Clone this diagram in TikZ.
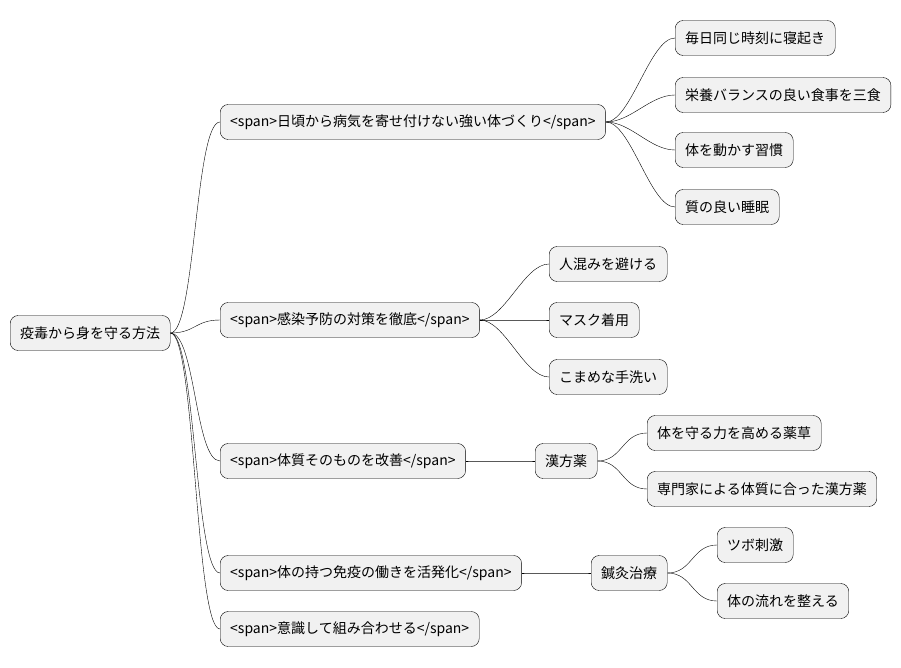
\documentclass[tikz,border=0pt]{standalone}
\usepackage{fontspec}
\setmainfont{Noto Sans CJK JP}
\usetikzlibrary{positioning}
\definecolor{boxgray}{HTML}{F1F1F1}
\tikzset{line/.style={draw, thin}}

\begin{document}
\begin{tikzpicture}[x=1pt, y=-1pt]
\tikzstyle{topic} = [rectangle, rounded corners=8pt, draw, fill=boxgray, anchor=west, minimum height=35pt, inner xsep=10pt, font=\fontsize{14}{16}\selectfont]
\useasboundingbox (0,0) rectangle (901,668);

% blocks
    % root
    \node [topic] (root) at (10,333) {疫毒から身を守る方法};
    % first level
    \node [topic] (body) at (220,122) {<span>日頃から病気を寄せ付けない強い体づくり</span>};
    \node [topic] (infect) at (220,320) {<span>感染予防の対策を徹底</span>};
    \node [topic] (constit) at (220,461) {<span>体質そのものを改善</span>};
    \node [topic] (immune) at (220,573) {<span>体の持つ免疫の働きを活発化</span>};
    \node [topic] (combine) at (220,629) {<span>意識して組み合わせる</span>};
    % body
    \node [topic] (wake) at (675,38) {毎日同じ時刻に寝起き};
    \node [topic] (meal) at (675,95) {栄養バランスの良い食事を三食};
    \node [topic] (move) at (675,150) {体を動かす習慣};
    \node [topic] (sleep) at (675,207) {質の良い睡眠};
    % infect
    \node [topic] (crowd) at (549,264) {人混みを避ける};
    \node [topic] (mask) at (549,320) {マスク着用};
    \node [topic] (wash) at (549,377) {こまめな手洗い};
    % constit
    \node [topic] (kampo) at (535,461) {漢方薬};
    \node [topic] (herb) at (647,433) {体を守る力を高める薬草};
    \node [topic] (expert) at (647,489) {専門家による体質に合った漢方薬};
    % immune
    \node [topic] (acu) at (591,573) {鍼灸治療};
    \node [topic] (tsubo) at (717,545) {ツボ刺激};
    \node [topic] (flow) at (717,601) {体の流れを整える};

% arrows
    \foreach \a/\b in {root/body, root/infect, root/constit, root/immune, root/combine,
                       body/wake, body/meal, body/move, body/sleep,
                       infect/crowd, infect/mask, infect/wash,
                       constit/kampo, kampo/herb, kampo/expert,
                       immune/acu, acu/tsubo, acu/flow}
        \path [line] (\a.east) .. controls ([xshift=25pt]\a.east) and ([xshift=-25pt]\b.west) .. (\b.west);
\end{tikzpicture}
\end{document}
